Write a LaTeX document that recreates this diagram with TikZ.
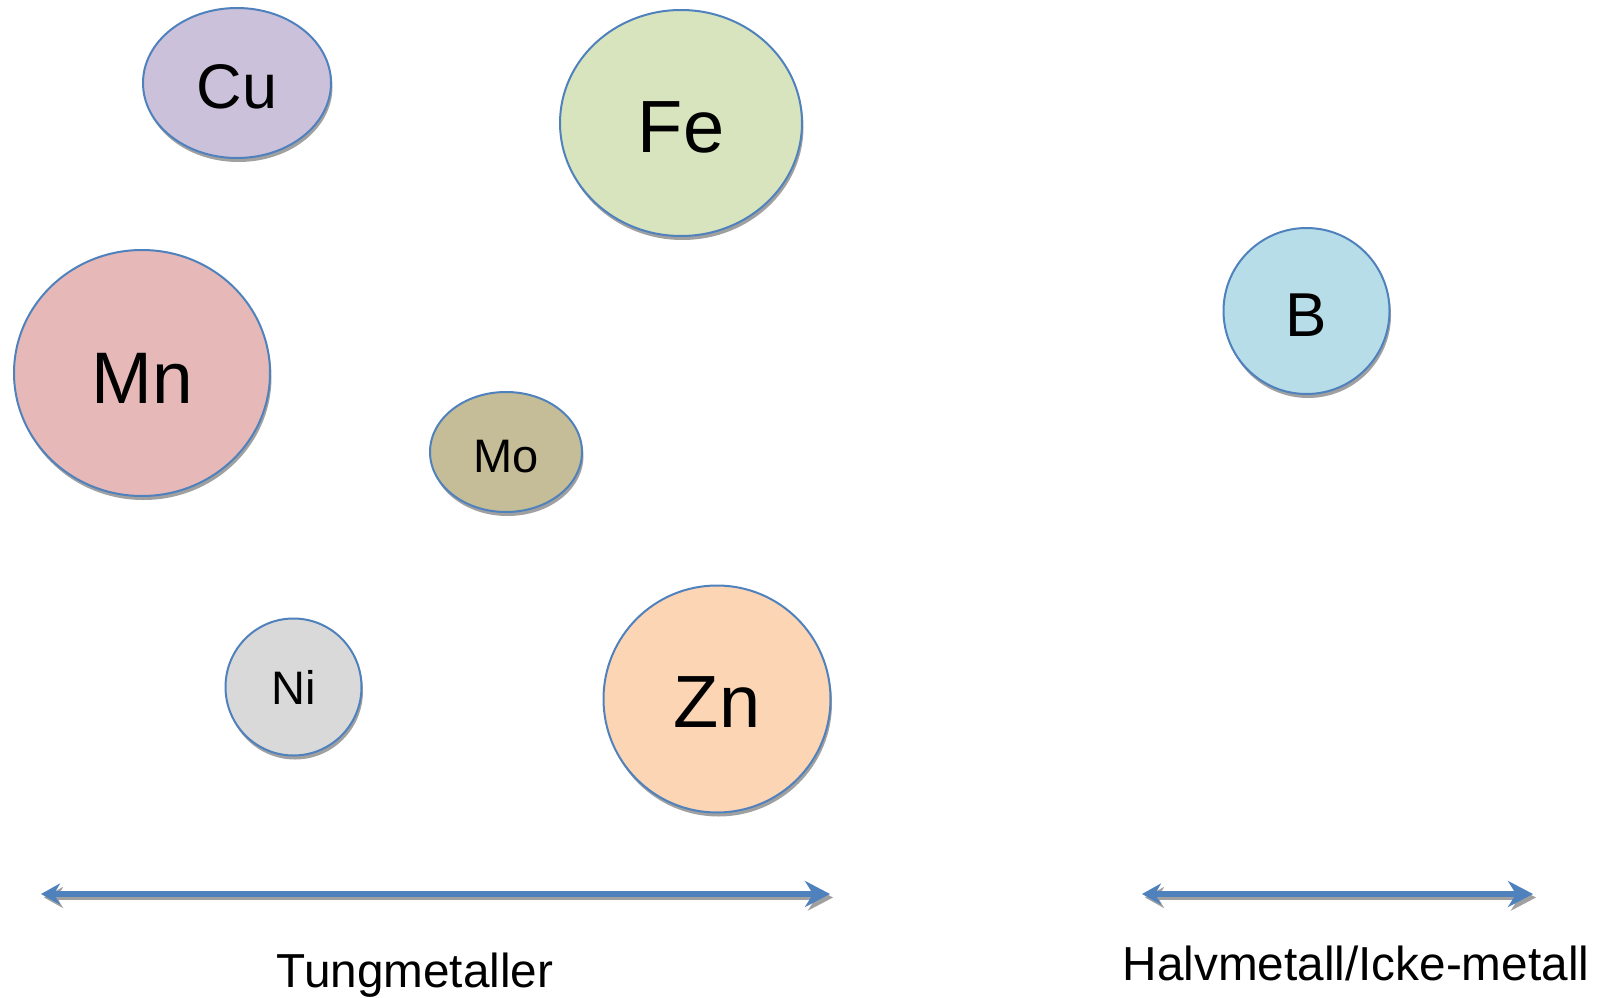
\documentclass[tikz,border=0pt]{standalone}
\usepackage{fontspec}
\setmainfont{Liberation Sans}
\usetikzlibrary{shapes.geometric,shadows,arrows.meta}

\definecolor{rim}{RGB}{79,129,189}
\definecolor{cufill}{RGB}{204,193,218}
\definecolor{fefill}{RGB}{215,228,189}
\definecolor{mnfill}{RGB}{230,185,184}
\definecolor{mofill}{RGB}{196,189,151}
\definecolor{nifill}{RGB}{217,217,217}
\definecolor{znfill}{RGB}{252,213,181}
\definecolor{bfill}{RGB}{183,221,232}
\definecolor{shade}{RGB}{160,160,160}

\begin{document}
\begin{tikzpicture}[x=1pt,y=-1pt,
  elem/.style={ellipse, draw=rim, line width=2pt, inner sep=0pt, text depth=0pt,
    drop shadow={shadow xshift=1.5pt, shadow yshift=-4pt, opacity=1, fill=shade}},
  span/.style={line width=5.5pt, draw=rim,
    {Stealth[length=19pt,width=21pt,inset=6pt]}-{Stealth[length=25pt,width=26pt,inset=8pt]}},
  spanshadow/.style={span, draw=shade},
  caption/.style={anchor=base, inner sep=0pt, font=\fontsize{47.7}{55}\selectfont}
]
\useasboundingbox (0,0) rectangle (1599,998);

% element circles
\node[elem, fill=cufill, minimum width=188pt, minimum height=150pt, text height=51pt,
  font=\fontsize{63}{70}\selectfont] (cu) at (237,83) {Cu};
\node[elem, fill=fefill, minimum width=242pt, minimum height=226pt, text height=59pt,
  font=\fontsize{74}{80}\selectfont] (fe) at (681,123) {Fe};
\node[elem, fill=mnfill, minimum width=256pt, minimum height=246pt, text height=61pt,
  font=\fontsize{73}{80}\selectfont] (mn) at (142,373) {Mn};
\node[elem, fill=mofill, minimum width=152pt, minimum height=120pt, text height=40pt,
  font=\fontsize{47}{54}\selectfont] (mo) at (506,452) {Mo};
\node[elem, fill=nifill, minimum width=136pt, minimum height=137pt, text height=35pt,
  font=\fontsize{47}{54}\selectfont] (ni) at (293.5,687) {Ni};
\node[elem, fill=znfill, minimum width=227pt, minimum height=227pt, text height=57pt,
  font=\fontsize{74}{80}\selectfont] (zn) at (717,699) {Zn};
\node[elem, fill=bfill, minimum width=166pt, minimum height=166pt, text height=50pt,
  font=\fontsize{62}{70}\selectfont] (b) at (1306.5,311) {B};

% range arrows, each with a grey offset shadow underneath
\coordinate (heavyL) at (41,894);
\coordinate (heavyR) at (830,894);
\coordinate (semiL) at (1142,894);
\coordinate (semiR) at (1533,894);

\draw[spanshadow] ([xshift=3pt,yshift=-3.5pt]heavyL) -- ([xshift=3pt,yshift=-3.5pt]heavyR);
\draw[span] (heavyL) -- (heavyR);
\draw[spanshadow] ([xshift=3pt,yshift=-3.5pt]semiL) -- ([xshift=3pt,yshift=-3.5pt]semiR);
\draw[span] (semiL) -- (semiR);

% captions
\node[caption] (heavy) at (415,987) {Tungmetaller};
\node[caption] (semi) at (1356,980) {Halvmetall/Icke-metall};
\end{tikzpicture}
\end{document}
